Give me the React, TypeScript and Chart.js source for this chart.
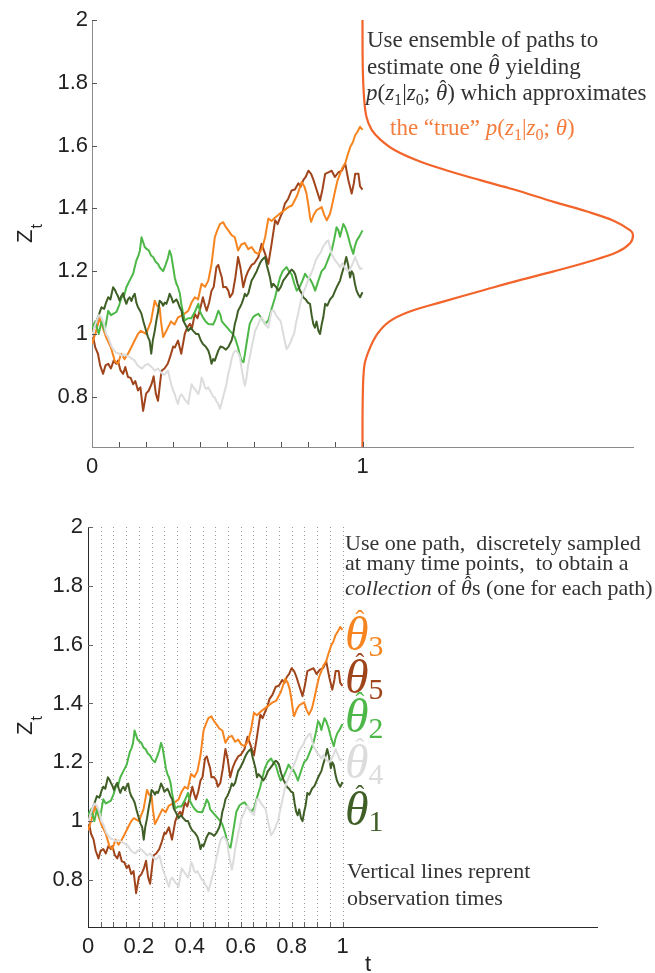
import React, { useEffect, useRef } from 'react';
import { Chart, registerables } from 'chart.js';

Chart.register(...registerables);

const W = 655;
const H = 973;

// ---------- axes ----------
const X_MIN = 0;
const X_MAX = 2;
const Y_MIN = 0.64;
const Y_MAX = 2;
const Y_TICKS = [0.8, 1, 1.2, 1.4, 1.6, 1.8, 2];
const Y_TICK_LABELS = ['0.8', '1', '1.2', '1.4', '1.6', '1.8', '2'];
const X_TOP_TICKS = [0, 0.1, 0.2, 0.3, 0.4, 0.5, 0.6, 0.7, 0.8, 0.9, 1];
const X_TOP_LABELS = ['0', '', '', '', '', '', '', '', '', '', '1'];
const X_BOT_TICKS = [0, 0.05, 0.1, 0.15, 0.2, 0.25, 0.3, 0.35, 0.4, 0.45, 0.5, 0.55, 0.6, 0.65, 0.7, 0.75, 0.8, 0.85, 0.9, 0.95, 1];
const X_BOT_LABELS = ['0', '', '', '', '0.2', '', '', '', '0.4', '', '', '', '0.6', '', '', '', '0.8', '', '', '', '1'];

// ---------- sample paths [t, z] ----------
const PATH_1: [number, number][] = [
  [0, 1.01], [0.008, 1.02], [0.016, 1.04], [0.025, 1.06], [0.035, 1.085], [0.045, 1.08], [0.052, 1.1], [0.06, 1.117], [0.068, 1.11], [0.078, 1.149], [0.085, 1.14], [0.09, 1.13], [0.096, 1.12], [0.102, 1.106], [0.108, 1.12], [0.115, 1.13], [0.121, 1.11], [0.127, 1.096], [0.133, 1.11], [0.139, 1.117], [0.146, 1.105], [0.152, 1.12], [0.158, 1.128], [0.164, 1.1], [0.17, 1.085], [0.177, 1.075], [0.183, 1.064], [0.19, 1.04], [0.2, 1.01], [0.207, 0.99], [0.213, 0.979], [0.219, 0.937], [0.225, 0.98], [0.232, 1.01], [0.238, 1.043], [0.244, 1.07], [0.25, 1.106], [0.257, 1.1], [0.263, 1.09], [0.269, 1.1], [0.275, 1.096], [0.281, 1.11], [0.287, 1.128], [0.294, 1.115], [0.3, 1.1], [0.306, 1.105], [0.312, 1.11], [0.318, 1.1], [0.324, 1.085], [0.331, 1.074], [0.337, 1.043], [0.345, 1.03], [0.356, 1.01], [0.365, 1.02], [0.374, 1.01], [0.385, 1.0], [0.393, 1.0], [0.402, 0.98], [0.41, 0.968], [0.42, 0.96], [0.43, 0.947], [0.436, 0.93], [0.442, 0.905], [0.448, 0.92], [0.454, 0.915], [0.46, 0.93], [0.467, 0.947], [0.475, 0.96], [0.485, 0.957], [0.495, 0.95], [0.505, 0.96], [0.516, 0.979], [0.522, 1.0], [0.528, 1.032], [0.534, 1.05], [0.54, 1.074], [0.547, 1.085], [0.553, 1.096], [0.559, 1.11], [0.565, 1.128], [0.571, 1.12], [0.578, 1.13], [0.584, 1.15], [0.59, 1.17], [0.597, 1.18], [0.603, 1.19], [0.609, 1.2], [0.615, 1.213], [0.621, 1.225], [0.627, 1.234], [0.633, 1.24], [0.64, 1.245], [0.646, 1.22], [0.652, 1.2], [0.658, 1.18], [0.664, 1.149], [0.67, 1.16], [0.68, 1.15], [0.689, 1.138], [0.698, 1.15], [0.707, 1.17], [0.716, 1.18], [0.726, 1.192], [0.732, 1.2], [0.738, 1.205], [0.745, 1.2], [0.751, 1.19], [0.76, 1.16], [0.769, 1.138], [0.775, 1.13], [0.781, 1.117], [0.79, 1.11], [0.798, 1.1], [0.806, 1.096], [0.812, 1.06], [0.818, 1.032], [0.824, 1.02], [0.83, 1.04], [0.837, 1.01], [0.843, 1.0], [0.849, 1.03], [0.855, 1.053], [0.862, 1.096], [0.87, 1.09], [0.88, 1.11], [0.89, 1.12], [0.899, 1.138], [0.905, 1.15], [0.911, 1.16], [0.917, 1.17], [0.923, 1.19], [0.93, 1.21], [0.94, 1.245], [0.947, 1.22], [0.954, 1.18], [0.96, 1.2], [0.966, 1.19], [0.972, 1.16], [0.978, 1.138], [0.985, 1.125], [0.991, 1.117], [1.0, 1.133],
];

const PATH_2: [number, number][] = [
  [0, 1.02], [0.012, 1.04], [0.025, 1.0], [0.035, 1.04], [0.047, 1.01], [0.06, 1.074], [0.07, 1.06], [0.078, 1.064], [0.09, 1.07], [0.1, 1.09], [0.109, 1.117], [0.118, 1.12], [0.127, 1.149], [0.139, 1.17], [0.152, 1.192], [0.164, 1.234], [0.172, 1.25], [0.177, 1.266], [0.183, 1.308], [0.19, 1.29], [0.195, 1.277], [0.203, 1.27], [0.21, 1.266], [0.218, 1.25], [0.226, 1.245], [0.235, 1.23], [0.244, 1.223], [0.252, 1.21], [0.263, 1.2], [0.272, 1.22], [0.28, 1.24], [0.287, 1.266], [0.293, 1.25], [0.3, 1.213], [0.306, 1.18], [0.312, 1.16], [0.318, 1.149], [0.325, 1.128], [0.33, 1.096], [0.336, 1.07], [0.343, 1.043], [0.355, 1.05], [0.367, 1.05], [0.38, 1.07], [0.393, 1.096], [0.4, 1.07], [0.41, 1.053], [0.42, 1.04], [0.43, 1.032], [0.448, 1.03], [0.458, 1.05], [0.467, 1.074], [0.475, 1.06], [0.48, 1.04], [0.49, 1.03], [0.5, 1.02], [0.51, 1.01], [0.52, 1.0], [0.528, 0.989], [0.54, 0.957], [0.547, 0.93], [0.553, 0.915], [0.56, 0.91], [0.566, 0.94], [0.571, 0.968], [0.577, 1.0], [0.583, 1.032], [0.595, 1.053], [0.605, 1.06], [0.615, 1.064], [0.627, 1.05], [0.64, 1.032], [0.652, 1.043], [0.664, 1.08], [0.677, 1.117], [0.686, 1.15], [0.695, 1.18], [0.705, 1.2], [0.719, 1.213], [0.728, 1.2], [0.738, 1.19], [0.748, 1.16], [0.757, 1.138], [0.768, 1.15], [0.778, 1.17], [0.788, 1.192], [0.797, 1.18], [0.806, 1.175], [0.815, 1.16], [0.825, 1.138], [0.837, 1.17], [0.849, 1.2], [0.86, 1.21], [0.874, 1.24], [0.886, 1.266], [0.895, 1.3], [0.904, 1.34], [0.911, 1.33], [0.917, 1.31], [0.923, 1.33], [0.929, 1.35], [0.936, 1.34], [0.944, 1.32], [0.954, 1.287], [0.96, 1.27], [0.966, 1.255], [0.972, 1.28], [0.979, 1.298], [0.988, 1.31], [1.0, 1.33],
];

const PATH_3: [number, number][] = [
  [0, 0.968], [0.012, 1.0], [0.028, 1.05], [0.04, 1.02], [0.052, 0.99], [0.07, 0.957], [0.084, 0.915], [0.096, 0.905], [0.108, 0.937], [0.12, 0.92], [0.133, 0.937], [0.145, 0.957], [0.158, 0.98], [0.17, 1.0], [0.18, 1.01], [0.2, 1.0], [0.218, 1.04], [0.232, 1.106], [0.24, 1.09], [0.25, 1.085], [0.255, 1.04], [0.263, 0.99], [0.275, 1.01], [0.292, 1.04], [0.305, 1.03], [0.318, 1.053], [0.335, 1.06], [0.356, 1.074], [0.368, 1.1], [0.38, 1.117], [0.392, 1.11], [0.405, 1.16], [0.418, 1.15], [0.43, 1.17], [0.442, 1.223], [0.454, 1.308], [0.463, 1.33], [0.473, 1.35], [0.485, 1.356], [0.495, 1.34], [0.504, 1.33], [0.516, 1.315], [0.528, 1.308], [0.54, 1.266], [0.552, 1.285], [0.565, 1.29], [0.578, 1.27], [0.59, 1.277], [0.603, 1.26], [0.615, 1.255], [0.628, 1.27], [0.64, 1.308], [0.652, 1.368], [0.664, 1.36], [0.676, 1.37], [0.69, 1.38], [0.705, 1.39], [0.726, 1.404], [0.74, 1.41], [0.758, 1.44], [0.775, 1.484], [0.785, 1.47], [0.793, 1.447], [0.8, 1.41], [0.806, 1.372], [0.81, 1.357], [0.82, 1.38], [0.83, 1.394], [0.849, 1.404], [0.858, 1.38], [0.868, 1.362], [0.88, 1.383], [0.89, 1.42], [0.899, 1.457], [0.908, 1.49], [0.917, 1.51], [0.926, 1.53], [0.936, 1.543], [0.945, 1.57], [0.955, 1.596], [0.964, 1.61], [0.973, 1.633], [0.982, 1.645], [0.991, 1.66], [1.0, 1.65],
];

const PATH_4: [number, number][] = [
  [0, 0.99], [0.008, 1.02], [0.016, 1.04], [0.025, 1.06], [0.035, 1.053], [0.045, 1.03], [0.052, 1.0], [0.06, 0.99], [0.066, 0.975], [0.072, 0.96], [0.08, 0.95], [0.09, 0.94], [0.102, 0.937], [0.11, 0.93], [0.12, 0.935], [0.13, 0.93], [0.14, 0.926], [0.15, 0.92], [0.158, 0.915], [0.168, 0.9], [0.177, 0.894], [0.186, 0.89], [0.195, 0.9], [0.207, 0.905], [0.22, 0.895], [0.232, 0.883], [0.244, 0.89], [0.257, 0.875], [0.268, 0.87], [0.281, 0.883], [0.287, 0.86], [0.293, 0.84], [0.3, 0.82], [0.306, 0.808], [0.312, 0.79], [0.318, 0.777], [0.324, 0.8], [0.331, 0.808], [0.337, 0.8], [0.344, 0.79], [0.35, 0.785], [0.356, 0.777], [0.362, 0.81], [0.368, 0.84], [0.375, 0.83], [0.384, 0.82], [0.393, 0.808], [0.4, 0.83], [0.405, 0.861], [0.411, 0.85], [0.417, 0.83], [0.423, 0.825], [0.43, 0.83], [0.436, 0.82], [0.442, 0.81], [0.448, 0.8], [0.454, 0.798], [0.46, 0.785], [0.467, 0.777], [0.473, 0.762], [0.479, 0.78], [0.485, 0.8], [0.491, 0.82], [0.497, 0.84], [0.503, 0.87], [0.51, 0.894], [0.516, 0.92], [0.522, 0.937], [0.528, 0.945], [0.534, 0.947], [0.54, 0.94], [0.547, 0.926], [0.553, 0.89], [0.559, 0.861], [0.565, 0.835], [0.571, 0.86], [0.577, 0.9], [0.584, 0.93], [0.59, 0.957], [0.597, 0.985], [0.603, 1.01], [0.609, 1.02], [0.615, 1.032], [0.621, 1.045], [0.627, 1.053], [0.634, 1.04], [0.64, 1.032], [0.646, 1.025], [0.652, 1.02], [0.658, 1.05], [0.664, 1.074], [0.672, 1.075], [0.68, 1.06], [0.689, 1.05], [0.698, 1.04], [0.705, 1.01], [0.712, 0.98], [0.719, 0.952], [0.726, 0.96], [0.735, 0.975], [0.741, 0.99], [0.747, 1.0], [0.753, 1.03], [0.759, 1.053], [0.766, 1.08], [0.772, 1.106], [0.78, 1.13], [0.79, 1.15], [0.8, 1.175], [0.809, 1.19], [0.818, 1.21], [0.827, 1.234], [0.837, 1.25], [0.846, 1.26], [0.855, 1.28], [0.862, 1.287], [0.868, 1.295], [0.874, 1.298], [0.88, 1.275], [0.886, 1.255], [0.892, 1.245], [0.899, 1.234], [0.908, 1.225], [0.917, 1.213], [0.925, 1.225], [0.932, 1.215], [0.94, 1.205], [0.948, 1.2], [0.956, 1.21], [0.964, 1.225], [0.973, 1.245], [0.982, 1.225], [0.991, 1.207], [1.0, 1.21],
];

const PATH_5: [number, number][] = [
  [0, 1.01], [0.012, 0.957], [0.022, 0.937], [0.03, 0.9], [0.041, 0.873], [0.05, 0.9], [0.06, 0.905], [0.07, 0.89], [0.08, 0.915], [0.09, 0.905], [0.096, 0.915], [0.105, 0.885], [0.115, 0.873], [0.123, 0.895], [0.133, 0.863], [0.143, 0.86], [0.152, 0.84], [0.16, 0.85], [0.17, 0.82], [0.179, 0.83], [0.189, 0.755], [0.2, 0.81], [0.21, 0.82], [0.22, 0.84], [0.228, 0.865], [0.236, 0.81], [0.244, 0.787], [0.257, 0.883], [0.268, 0.89], [0.28, 0.905], [0.29, 0.93], [0.3, 0.96], [0.306, 0.957], [0.318, 0.979], [0.33, 0.937], [0.343, 1.0], [0.352, 1.02], [0.362, 1.032], [0.37, 1.02], [0.38, 1.064], [0.39, 1.05], [0.4, 1.08], [0.41, 1.117], [0.418, 1.09], [0.424, 1.074], [0.433, 1.1], [0.442, 1.138], [0.45, 1.15], [0.46, 1.213], [0.467, 1.22], [0.473, 1.2], [0.48, 1.18], [0.485, 1.149], [0.495, 1.15], [0.504, 1.138], [0.51, 1.117], [0.52, 1.13], [0.53, 1.18], [0.54, 1.245], [0.549, 1.21], [0.559, 1.149], [0.568, 1.18], [0.577, 1.2], [0.59, 1.22], [0.6, 1.225], [0.615, 1.245], [0.627, 1.287], [0.64, 1.255], [0.652, 1.223], [0.664, 1.287], [0.677, 1.362], [0.686, 1.35], [0.695, 1.37], [0.705, 1.39], [0.713, 1.415], [0.725, 1.43], [0.738, 1.457], [0.75, 1.46], [0.763, 1.48], [0.772, 1.47], [0.781, 1.49], [0.79, 1.5], [0.8, 1.52], [0.81, 1.51], [0.819, 1.49], [0.83, 1.46], [0.843, 1.425], [0.852, 1.46], [0.862, 1.51], [0.874, 1.515], [0.886, 1.52], [0.898, 1.5], [0.911, 1.515], [0.924, 1.52], [0.936, 1.543], [0.948, 1.489], [0.96, 1.447], [0.968, 1.48], [0.973, 1.51], [0.985, 1.51], [0.991, 1.47], [1.0, 1.46],
];

// ---------- "true" transition density (drawn sideways from t = 1) ----------
const DENSITY_Z = [0.64, 0.8, 0.9, 0.95, 1.0, 1.04, 1.07, 1.1, 1.14, 1.17, 1.2, 1.23, 1.26, 1.29, 1.315, 1.33, 1.36, 1.39, 1.42, 1.46, 1.49, 1.52, 1.55, 1.585, 1.62, 1.65, 1.69, 1.75, 1.85, 2.0];
const DENSITY_P = [0, 0.001, 0.007, 0.025, 0.055, 0.1, 0.17, 0.285, 0.45, 0.575, 0.71, 0.835, 0.94, 0.99, 1.0, 0.99, 0.93, 0.83, 0.71, 0.56, 0.435, 0.315, 0.21, 0.12, 0.065, 0.034, 0.015, 0.006, 0.001, 0];

// ---------- styles ----------
const C_DARKGREEN = '#3f5f26';
const C_GREEN = '#4db848';
const C_ORANGE = '#f6841f';
const C_GRAY = '#dcdcdc';
const C_BROWN = '#a0441c';
const C_DENSITY = '#f2642a';
const C_DENSITY_TEXT = '#f47d3e';
const C_TEXT = '#333333';
const SANS = "'Liberation Sans', Arial, sans-serif";
const SERIF = "'Liberation Serif', 'Times New Roman', serif";

type Seg = { t: string; it?: boolean; sub?: boolean; hat?: boolean };

function drawRich(
  ctx: CanvasRenderingContext2D,
  x: number,
  y: number,
  segs: Seg[],
  size: number,
  color: string,
  subScale = 0.7,
  subDrop = 0.22,
  hatScale = 0.9,
) {
  ctx.save();
  ctx.fillStyle = color;
  ctx.textAlign = 'left';
  ctx.textBaseline = 'alphabetic';
  let cx = x;
  for (const s of segs) {
    const fs = s.sub ? size * subScale : size;
    const dy = s.sub ? size * subDrop : 0;
    ctx.font = `${s.it ? 'italic ' : ''}${fs}px ${SERIF}`;
    ctx.fillText(s.t, cx, y + dy);
    const m = ctx.measureText(s.t);
    if (s.hat) {
      const asc = m.actualBoundingBoxAscent;
      const center = cx + (m.actualBoundingBoxRight - m.actualBoundingBoxLeft) / 2 + fs * 0.05;
      ctx.font = `${fs * hatScale}px ${SERIF}`;
      const hm = ctx.measureText('ˆ');
      const bottomTarget = y + dy - asc - fs * 0.04;
      const hy = bottomTarget - hm.actualBoundingBoxDescent;
      const hx = center - (hm.actualBoundingBoxRight - hm.actualBoundingBoxLeft) / 2;
      ctx.fillText('ˆ', hx, hy);
    }
    cx += m.width;
  }
  ctx.restore();
  return cx;
}

function drawZt(ctx: CanvasRenderingContext2D, xBase: number, yStart: number) {
  ctx.save();
  ctx.translate(xBase, yStart);
  ctx.rotate(-Math.PI / 2);
  ctx.fillStyle = '#222';
  ctx.textBaseline = 'alphabetic';
  ctx.textAlign = 'left';
  ctx.font = `22px ${SANS}`;
  ctx.fillText('Z', 0, 0);
  const w = ctx.measureText('Z').width;
  ctx.font = `16px ${SANS}`;
  ctx.fillText('t', w + 1, 10);
  ctx.restore();
}

function drawInsideTicks(chart: any, xTicks: number[], color: string) {
  const { ctx, chartArea, scales } = chart;
  ctx.save();
  ctx.strokeStyle = color;
  ctx.lineWidth = 1;
  for (const v of xTicks) {
    if (v === 0) continue;
    const px = Math.round(scales.x.getPixelForValue(v)) + 0.5;
    ctx.beginPath();
    ctx.moveTo(px, chartArea.bottom);
    ctx.lineTo(px, chartArea.bottom - 5);
    ctx.stroke();
  }
  for (const v of Y_TICKS) {
    const py = Math.round(scales.y.getPixelForValue(v)) + 0.5;
    ctx.beginPath();
    ctx.moveTo(chartArea.left, py);
    ctx.lineTo(chartArea.left + 5, py);
    ctx.stroke();
  }
  ctx.restore();
}

const pathDatasets = () => [
  { data: PATH_4, color: C_GRAY },
  { data: PATH_1, color: C_DARKGREEN },
  { data: PATH_2, color: C_GREEN },
  { data: PATH_3, color: C_ORANGE },
  { data: PATH_5, color: C_BROWN },
].map((p) => ({
  data: p.data.map(([t, z]) => ({ x: t, y: z })),
  borderColor: p.color,
  borderWidth: 2,
  pointRadius: 0,
  showLine: true,
  tension: 0,
  borderJoinStyle: 'round' as const,
}));

function makeOptions(opts: {
  padding: any;
  yWidth: number;
  xTicks: number[];
  xLabels: string[];
  axisColor: string;
  yPad: number;
}) {
  const tickFont = { family: SANS, size: 22 };
  return {
    responsive: false,
    maintainAspectRatio: false,
    animation: false as const,
    events: [],
    layout: { padding: opts.padding },
    plugins: { legend: { display: false }, tooltip: { enabled: false } },
    scales: {
      x: {
        type: 'linear' as const,
        min: X_MIN,
        max: X_MAX,
        grid: { display: false, drawTicks: false },
        border: { display: true, color: opts.axisColor, width: 1 },
        afterBuildTicks: (s: any) => {
          s.ticks = opts.xTicks.map((v) => ({ value: v }));
        },
        afterFit: (s: any) => {
          s.height = 40;
        },
        ticks: {
          autoSkip: false,
          maxRotation: 0,
          minRotation: 0,
          padding: 7,
          color: '#222',
          font: tickFont,
          callback: (_v: any, i: number) => opts.xLabels[i],
        },
      },
      y: {
        type: 'linear' as const,
        min: Y_MIN,
        max: Y_MAX,
        grid: { display: false, drawTicks: false },
        border: { display: true, color: opts.axisColor, width: 1 },
        afterBuildTicks: (s: any) => {
          s.ticks = Y_TICKS.map((v) => ({ value: v }));
        },
        afterFit: (s: any) => {
          s.width = opts.yWidth;
        },
        ticks: {
          padding: opts.yPad,
          color: '#222',
          font: tickFont,
          callback: (_v: any, i: number) => Y_TICK_LABELS[i],
        },
      },
    },
  };
}

export default function App() {
  const topRef = useRef<HTMLCanvasElement>(null);
  const botRef = useRef<HTMLCanvasElement>(null);

  useEffect(() => {
    const topDecor = {
      id: 'topDecor',
      afterDraw(chart: any) {
        const ctx = chart.ctx as CanvasRenderingContext2D;
        drawInsideTicks(chart, X_TOP_TICKS, '#555');
        drawZt(ctx, 32, 243);
        const fs = 23;
        drawRich(ctx, 367, 47, [{ t: 'Use ensemble of paths to' }], fs, C_TEXT);
        drawRich(ctx, 367, 74, [{ t: 'estimate one ' }, { t: 'θ', it: true, hat: true }, { t: ' yielding' }], fs, C_TEXT);
        drawRich(
          ctx, 366, 100,
          [
            { t: 'p', it: true }, { t: '(' }, { t: 'z', it: true }, { t: '1', sub: true }, { t: '|' },
            { t: 'z', it: true }, { t: '0', sub: true }, { t: '; ' }, { t: 'θ', it: true, hat: true }, { t: ')' },
            { t: ' which approximates' },
          ],
          fs, C_TEXT,
        );
        drawRich(
          ctx, 390, 135,
          [
            { t: 'the “true” ' }, { t: 'p', it: true }, { t: '(' }, { t: 'z', it: true }, { t: '1', sub: true },
            { t: '|' }, { t: 'z', it: true }, { t: '0', sub: true }, { t: '; ' }, { t: 'θ', it: true }, { t: ')' },
          ],
          fs, C_DENSITY_TEXT,
        );
      },
    };

    const botDecor = {
      id: 'botDecor',
      beforeDatasetsDraw(chart: any) {
        const { ctx, chartArea, scales } = chart;
        ctx.save();
        ctx.strokeStyle = '#9a9a9a';
        ctx.lineWidth = 1;
        ctx.setLineDash([1, 3]);
        for (const v of X_BOT_TICKS) {
          if (v === 0) continue;
          const px = Math.round(scales.x.getPixelForValue(v)) + 0.5;
          ctx.beginPath();
          ctx.moveTo(px, chartArea.top);
          ctx.lineTo(px, chartArea.bottom);
          ctx.stroke();
        }
        ctx.restore();
      },
      afterDraw(chart: any) {
        const ctx = chart.ctx as CanvasRenderingContext2D;
        drawInsideTicks(chart, X_BOT_TICKS, '#666');
        drawZt(ctx, 32, 735);
        // x-axis title "t"
        ctx.save();
        ctx.fillStyle = '#222';
        ctx.font = `22px ${SANS}`;
        ctx.textAlign = 'center';
        ctx.textBaseline = 'alphabetic';
        ctx.fillText('t', chart.scales.x.getPixelForValue(1.1), 971);
        ctx.restore();

        const fs = 22;
        drawRich(ctx, 345, 550, [{ t: 'Use one path,  discretely sampled' }], fs, C_TEXT);
        drawRich(ctx, 345, 570, [{ t: 'at many time points,  to obtain a' }], fs, C_TEXT);
        drawRich(
          ctx, 345, 595,
          [{ t: 'collection', it: true }, { t: ' of ' }, { t: 'θ', it: true, hat: true }, { t: 's (one for each path)' }],
          fs, C_TEXT,
        );
        drawRich(ctx, 347, 878, [{ t: 'Vertical lines reprent' }], fs, C_TEXT);
        drawRich(ctx, 347, 905, [{ t: 'observation times' }], fs, C_TEXT);

        const labels: [string, number, string][] = [
          ['3', 650, C_ORANGE],
          ['5', 693, C_BROWN],
          ['2', 732, C_GREEN],
          ['4', 778, C_GRAY],
          ['1', 825, C_DARKGREEN],
        ];
        for (const [n, yb, col] of labels) {
          drawRich(ctx, 345, yb, [{ t: 'θ', it: true, hat: true }, { t: n, sub: true }], 48, col, 0.62, 0.12, 0.55);
        }
      },
    };

    const top = new Chart(topRef.current as HTMLCanvasElement, {
      type: 'scatter',
      data: {
        datasets: [
          ...pathDatasets(),
          {
            data: DENSITY_Z.map((z, i) => ({ x: 1 + DENSITY_P[i], y: z })),
            borderColor: C_DENSITY,
            borderWidth: 2.2,
            pointRadius: 0,
            showLine: true,
            tension: 0.35,
            clip: false,
          } as any,
        ],
      },
      options: makeOptions({
        padding: { left: 0, right: 22, top: 20, bottom: H - 447 - 40 },
        yWidth: 92,
        xTicks: X_TOP_TICKS,
        xLabels: X_TOP_LABELS,
        axisColor: '#8a8a8a',
        yPad: 4,
      }) as any,
      plugins: [topDecor],
    });

    const bot = new Chart(botRef.current as HTMLCanvasElement, {
      type: 'scatter',
      data: { datasets: pathDatasets() as any },
      options: makeOptions({
        padding: { left: 0, right: W - 597, top: 527, bottom: H - 927 - 40 },
        yWidth: 88,
        xTicks: X_BOT_TICKS,
        xLabels: X_BOT_LABELS,
        axisColor: '#2a2a2a',
        yPad: 5,
      }) as any,
      plugins: [botDecor],
    });

    return () => {
      top.destroy();
      bot.destroy();
    };
  }, []);

  return (
    <div style={{ position: 'absolute', left: 0, top: 0, width: W, height: H, background: '#fff', overflow: 'hidden' }}>
      <canvas ref={topRef} width={W} height={H} style={{ position: 'absolute', left: 0, top: 0, width: W, height: H }} />
      <canvas ref={botRef} width={W} height={H} style={{ position: 'absolute', left: 0, top: 0, width: W, height: H }} />
    </div>
  );
}
